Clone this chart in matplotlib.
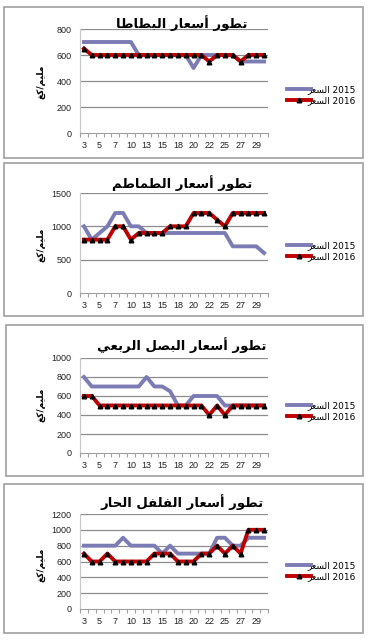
import matplotlib
matplotlib.use("Agg")
import matplotlib.pyplot as plt
from matplotlib.patches import Rectangle
import numpy as np

# ---------------- data ----------------
days = [3, 4, 5, 6, 7, 8, 10, 11, 13, 14, 15, 17, 18, 19, 20, 21, 22, 24, 25, 26, 27, 28, 29, 30]

titles = ["تطور أسعار البطاطا", "تطور أسعار الطماطم", "تطور أسعار البصل الربعي", "تطور أسعار الفلفل الحار"]
ylabel = "مليم/كغ"
series_name = "السعر"
years = ["2015", "2016"]

potato_2015 = [700, 700, 700, 700, 700, 700, 700, 600, 600, 600, 600, 600, 600, 600, 500, 600, 600, 600, 600, 600, 550, 550, 550, 550]
potato_2016 = [650, 600, 600, 600, 600, 600, 600, 600, 600, 600, 600, 600, 600, 600, 600, 600, 550, 600, 600, 600, 550, 600, 600, 600]

tomato_2015 = [1000, 800, 900, 1000, 1200, 1200, 1000, 1000, 900, 900, 900, 900, 900, 900, 900, 900, 900, 900, 900, 700, 700, 700, 700, 600]
tomato_2016 = [800, 800, 800, 800, 1000, 1000, 800, 900, 900, 900, 900, 1000, 1000, 1000, 1200, 1200, 1200, 1100, 1000, 1200, 1200, 1200, 1200, 1200]

onion_2015 = [800, 700, 700, 700, 700, 700, 700, 700, 800, 700, 700, 650, 500, 500, 600, 600, 600, 600, 500, 500, 500, 500, 500, 500]
onion_2016 = [600, 600, 500, 500, 500, 500, 500, 500, 500, 500, 500, 500, 500, 500, 500, 500, 400, 500, 400, 500, 500, 500, 500, 500]

pepper_2015 = [800, 800, 800, 800, 800, 900, 800, 800, 800, 800, 700, 800, 700, 700, 700, 700, 700, 900, 900, 800, 800, 900, 900, 900]
pepper_2016 = [700, 600, 600, 700, 600, 600, 600, 600, 600, 700, 700, 700, 600, 600, 600, 700, 700, 800, 700, 800, 700, 1000, 1000, 1000]

y_max = [800, 1500, 1000, 1200]
y_step = [200, 500, 200, 200]

# ---------------- simple Arabic shaping ----------------
FORMS = {
    'ا': ('\uFE8D', '\uFE8E', None, None),
    'أ': ('\uFE83', '\uFE84', None, None),
    'ر': ('\uFEAD', '\uFEAE', None, None),
    'و': ('\uFEED', '\uFEEE', None, None),
    'ب': ('\uFE8F', '\uFE90', '\uFE91', '\uFE92'),
    'ت': ('\uFE95', '\uFE96', '\uFE97', '\uFE98'),
    'ح': ('\uFEA1', '\uFEA2', '\uFEA3', '\uFEA4'),
    'س': ('\uFEB1', '\uFEB2', '\uFEB3', '\uFEB4'),
    'ص': ('\uFEB9', '\uFEBA', '\uFEBB', '\uFEBC'),
    'ط': ('\uFEC1', '\uFEC2', '\uFEC3', '\uFEC4'),
    'ع': ('\uFEC9', '\uFECA', '\uFECB', '\uFECC'),
    'غ': ('\uFECD', '\uFECE', '\uFECF', '\uFED0'),
    'ف': ('\uFED1', '\uFED2', '\uFED3', '\uFED4'),
    'ك': ('\uFED9', '\uFEDA', '\uFEDB', '\uFEDC'),
    'ل': ('\uFEDD', '\uFEDE', '\uFEDF', '\uFEE0'),
    'م': ('\uFEE1', '\uFEE2', '\uFEE3', '\uFEE4'),
    'ي': ('\uFEF1', '\uFEF2', '\uFEF3', '\uFEF4'),
}


def ar(text):
    out = []
    n = len(text)
    for i, c in enumerate(text):
        if c not in FORMS:
            out.append(c)
            continue
        prev = text[i - 1] if i > 0 else None
        nxt = text[i + 1] if i + 1 < n else None
        jp = prev is not None and prev in FORMS and FORMS[prev][2] is not None
        jn = FORMS[c][2] is not None and nxt is not None and nxt in FORMS
        iso, fin, ini, med = FORMS[c]
        if jp and jn:
            out.append(med)
        elif jp:
            out.append(fin)
        elif jn:
            out.append(ini)
        else:
            out.append(iso)
    return ''.join(out)[::-1]


# ---------------- figure ----------------
W, H = 370, 641
fig = plt.figure(figsize=(W / 100, H / 100), dpi=100)
fig.patch.set_facecolor('white')

frames = [(4, 7, 359, 151), (4, 163, 359, 153), (6, 325, 357, 151), (4, 484, 359, 149)]
axes_pos = [(29, 133), (193, 293), (358, 453), (514, 609)]
title_y = [23, 183, 345, 502]
ylabel_y = [82, 245, 405, 565]
legend_y = [95, 251, 411, 571]

data = [(potato_2015, potato_2016), (tomato_2015, tomato_2016),
        (onion_2015, onion_2016), (pepper_2015, pepper_2016)]

c15 = '#7c7cb4'
c16 = '#c00000'
x = np.arange(len(days))

for k in range(4):
    fx, fy, fw, fh = frames[k]
    fig.patches.append(Rectangle((fx / W, 1 - (fy + fh) / H), fw / W, fh / H,
                                 transform=fig.transFigure, fill=False,
                                 edgecolor='#a0a0a0', lw=1.2))
    top, bot = axes_pos[k]
    ax = fig.add_axes([80 / W, 1 - bot / H, 188 / W, (bot - top) / H])
    s15, s16 = data[k]
    l1, = ax.plot(x, s15, color=c15, lw=2.8, zorder=3)
    l2, = ax.plot(x, s16, color=c16, lw=2.8, marker='^', markersize=3.3,
                  markerfacecolor='black', markeredgecolor='black', zorder=4)
    ax.set_xlim(-0.5, len(days) - 0.5)
    ax.set_ylim(0, y_max[k])
    yt = np.arange(0, y_max[k] + 1, y_step[k])
    ax.set_yticks(yt)
    ax.set_yticklabels([str(v) for v in yt], fontsize=6.5, color='#222222',
                       family='Liberation Sans')
    ax.tick_params(axis='y', length=0, pad=6)
    for v in yt[1:]:
        ax.axhline(v, color='#8c8c8c', lw=0.9, zorder=1)
    ax.set_xticks(x[::2])
    ax.set_xticklabels([str(d) for d in days[::2]], fontsize=6.5, color='#222222',
                       family='Liberation Sans')
    ax.set_xticks(np.arange(-0.5, len(days), 1), minor=True)
    ax.tick_params(axis='x', which='major', length=0, pad=6)
    ax.tick_params(axis='x', which='minor', length=3, color='#a0a0a0', width=0.8)
    for s in ['top', 'right']:
        ax.spines[s].set_visible(False)
    ax.spines['left'].set_color('#c8c8c8')
    ax.spines['bottom'].set_color('#a0a0a0')
    ax.spines['left'].set_linewidth(0.8)
    ax.spines['bottom'].set_linewidth(0.8)
    ax.set_facecolor('none')

    fig.text(182 / W, 1 - title_y[k] / H, ar(titles[k]), ha='center', va='center',
             fontsize=9.5, fontweight='bold', family='DejaVu Sans')
    fig.text(41 / W, 1 - ylabel_y[k] / H, ar(ylabel), rotation=90, ha='center',
             va='center', fontsize=6.5, fontweight='bold', family='DejaVu Sans')

    leg = ax.legend([l1, l2], [f"{ar(series_name)} {years[0]}", f"{ar(series_name)} {years[1]}"],
                    loc='center left', bbox_to_anchor=(287 / W, 1 - legend_y[k] / H),
                    bbox_transform=fig.transFigure, frameon=False, fontsize=6.5,
                    handlelength=2.7, handletextpad=-0.4, labelspacing=0.25,
                    numpoints=1, borderaxespad=0, borderpad=0)
    for t in leg.get_texts():
        t.set_family('DejaVu Sans')

fig.savefig('out.png', dpi=100, facecolor='white')
